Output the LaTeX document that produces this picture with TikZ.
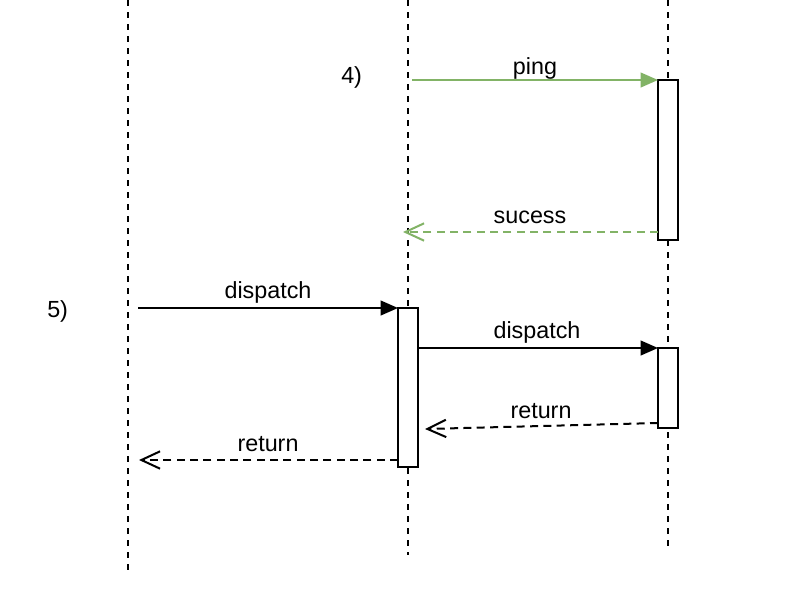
\documentclass[tikz,border=0pt]{standalone}
\usepackage{fontspec}
\setmainfont{Liberation Sans}
\usetikzlibrary{arrows.meta,calc}
\definecolor{dgreen}{RGB}{130,179,102}
\tikzset{
  lifeline/.style={line width=1.5pt, dash pattern=on 4.5pt off 4.5pt},
  actbox/.style={draw, fill=white, line width=1.5pt, minimum width=15pt, inner sep=0pt, outer sep=0pt},
  msg/.style={line width=1.5pt, -{Triangle[length=13pt,width=11pt]}},
  ret/.style={line width=1.5pt, dash pattern=on 6pt off 4pt, -{Straight Barb[length=14pt,width=13pt]}},
  lbl/.style={font=\fontsize{17.5}{20}\selectfont, anchor=base, inner sep=0pt}
}
\begin{document}
\begin{tikzpicture}[x=0.75pt,y=-0.75pt]
\useasboundingbox (0,0) rectangle (788,604);
% lifelines
\coordinate (l1t) at (128,0); \coordinate (l1b) at (128,575);
\coordinate (l2t) at (408,0); \coordinate (l2b) at (408,555);
\coordinate (l3t) at (668,0); \coordinate (l3b) at (668,548);
\draw[lifeline] (l1t) -- (l1b);
\draw[lifeline] (l2t) -- (l2b);
\draw[lifeline] (l3t) -- (l3b);
% activation boxes
\node[actbox, minimum height=120pt] (a1) at (668,160) {};
\node[actbox, minimum height=119.25pt] (a2) at (408,387.5) {};
\node[actbox, minimum height=60pt] (a3) at (668,388) {};
% free ends
\coordinate (p4) at (412,80);
\coordinate (s4) at (403,232);
\coordinate (d5) at (138,308);
\coordinate (r1) at (425,429);
\coordinate (r2) at (139,460);
% messages
\draw[msg, draw=dgreen, fill=dgreen] (p4) -- (a1.north west);
\draw[ret, draw=dgreen] ($(a1.south west)+(0,-8)$) -- (s4);
\draw[msg, fill=black] (d5) -- (a2.north west);
\draw[msg, fill=black] (a2.east |- a3.north west) -- (a3.north west);
\draw[ret] ($(a3.south west)+(0,-5)$) -- (r1);
\draw[ret] ($(a2.south west)+(0,-7)$) -- (r2);
% labels
\node[lbl] (tping) at (535,74) {ping};
\node[lbl] (tsuc) at (530,223) {sucess};
\node[lbl] (td1) at (268,298) {dispatch};
\node[lbl] (td2) at (537,338) {dispatch};
\node[lbl] (tr1) at (541,418) {return};
\node[lbl] (tr2) at (268,451) {return};
\node[lbl, anchor=base west] (n4) at (341,83) {4)};
\node[lbl, anchor=base west] (n5) at (47,317) {5)};
\end{tikzpicture}
\end{document}
